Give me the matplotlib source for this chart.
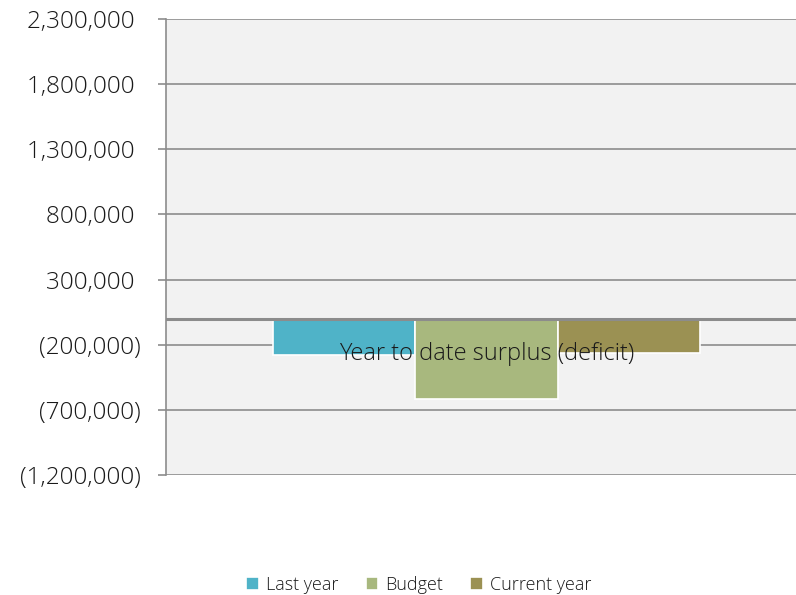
import matplotlib
matplotlib.use("Agg")
import matplotlib.pyplot as plt
from matplotlib.ticker import FuncFormatter

# Series values
series = ["Last year", "Budget", "Current year"]
values = [-280000, -615000, -265000]
colors = ["#4fb3c8", "#a8b87e", "#9b9153"]
category = "Year to date surplus (deficit)"
y_ticks = [-1200000, -700000, -200000, 300000, 800000, 1300000, 1800000, 2300000]

plt.rcParams["font.family"] = ["Open Sans", "DejaVu Sans"]
plt.rcParams["font.weight"] = "light"

fig = plt.figure(figsize=(7.96, 5.95), dpi=100)
ax = fig.add_axes([166 / 796, 1 - 475 / 595, 1 - 166 / 796, (475 - 19) / 595])
ax.set_facecolor("#f2f2f2")

# one category, three bars side by side
for i, (name, val, col) in enumerate(zip(series, values, colors)):
    ax.bar(i - 1, val, width=1.0, color=col, edgecolor="white", linewidth=1.2,
           label=name, zorder=3)

ax.set_xlim(-2.256, 2.178)
ax.set_ylim(y_ticks[0], y_ticks[-1])
ax.set_yticks(y_ticks)

def money(v, pos):
    if v < 0:
        return "({:,.0f})".format(-v)
    return "{:,.0f} ".format(v)

ax.yaxis.set_major_formatter(FuncFormatter(money))
ax.tick_params(axis="y", direction="out", length=6, width=1.2, color="#8c8c8c",
               labelsize=17.5, labelcolor="#1a1a1a", pad=12)
ax.set_xticks([])

ax.grid(axis="y", color="#8c8c8c", linewidth=1.2, zorder=1)
ax.axhline(0, color="#8c8c8c", linewidth=2.2, zorder=4)

for s in ["top", "right", "bottom"]:
    ax.spines[s].set_visible(False)
ax.spines["left"].set_color("#8c8c8c")
ax.spines["left"].set_linewidth(1.2)

ax.text(0, -271000, category, ha="center", va="center", fontsize=17,
        color="#1a1a1a", zorder=5)

handles, labels = ax.get_legend_handles_labels()
fig.legend(handles, labels, loc="center", bbox_to_anchor=(419 / 796, 1 - 585 / 595),
           ncol=3, frameon=False, fontsize=13, handlelength=0.7, handleheight=0.7,
           handletextpad=0.4, columnspacing=1.5, labelcolor="#1a1a1a")

fig.savefig("out.png", dpi=100)
